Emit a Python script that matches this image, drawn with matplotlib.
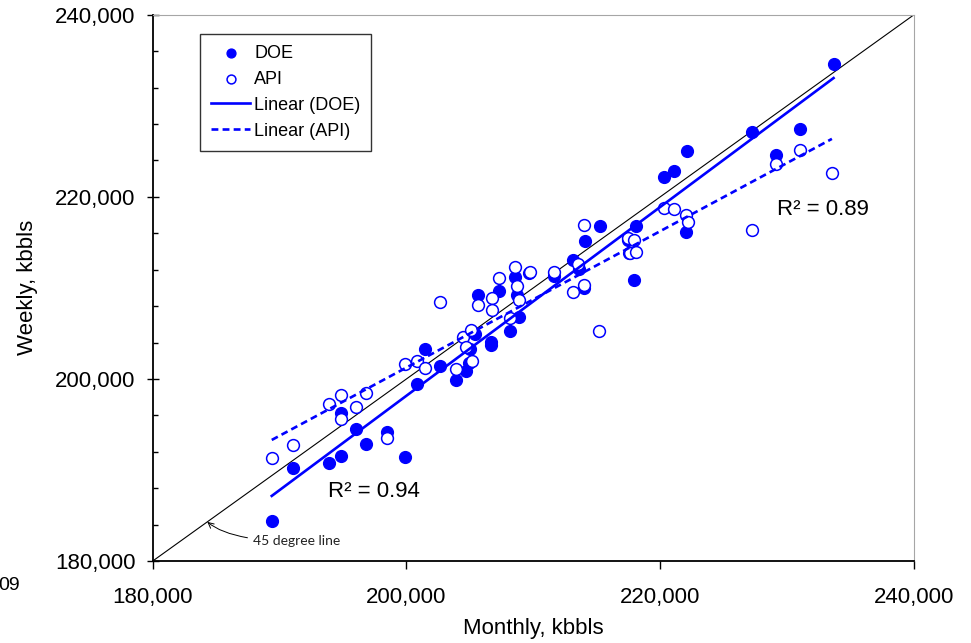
import matplotlib
matplotlib.use("Agg")
import matplotlib.pyplot as plt
import matplotlib.ticker as mticker
import numpy as np

plt.rcParams['font.family'] = ['Liberation Sans', 'DejaVu Sans']

# Tồn kho: số liệu tháng (trục x) so với số liệu tuần (trục y), kbbls
doe_monthly = [189380, 191030, 193870, 194810, 194810, 196050, 196780, 198440, 199860, 200840,
               201470, 202620, 203880, 204660, 204940, 205030, 205370, 205630, 206690, 206690,
               207290, 208190, 208580, 208720, 208880, 209630, 211600, 213120, 213570, 213990,
               214040, 215220, 217450, 217530, 217900, 218120, 220270, 221060, 222130, 222000,
               227230, 229090, 231040, 233660]
doe_weekly = [184350, 190250, 190800, 191570, 196310, 194550, 192890, 194220, 191460, 199400,
              203250, 201380, 199890, 200830, 201770, 203330, 204980, 209200, 204060, 203690,
              209680, 205270, 211150, 209260, 206780, 211680, 211330, 213060, 212040, 209940,
              215150, 216810, 215260, 213830, 210910, 216750, 222210, 222870, 225070, 216150,
              227090, 224630, 227460, 234600]

api_monthly = [189380, 191030, 193870, 194810, 194810, 196050, 196780, 198440, 199860, 200840,
               201470, 202620, 203880, 204450, 204720, 205110, 205190, 205630, 206770, 206770,
               207290, 208130, 208580, 208680, 208860, 209760, 211600, 213510, 213120, 213990,
               213990, 215170, 217450, 217900, 217640, 218060, 220270, 221060, 222000, 222180,
               227200, 229090, 231040, 233530]
api_weekly = [191350, 192780, 197300, 198180, 195650, 196970, 198400, 193550, 201600, 201930,
              201160, 208430, 201130, 204610, 203510, 205350, 201930, 208100, 208840, 207550,
              211040, 206720, 212260, 210190, 208650, 211770, 211700, 212620, 209570, 210300,
              216920, 205240, 215480, 215260, 213780, 213890, 218760, 218650, 218020, 217220,
              216330, 223610, 225110, 222650]

r2_labels = ['R² = 0.94', 'R² = 0.89']
axis_range = [180000, 240000]
blue = '#0000ff'


def add_trend(ax, x, y, **kw):
    # Đường hồi quy tuyến tính trên khoảng dữ liệu
    k, b = np.polyfit(x, y, 1)
    xs = np.array([min(x), max(x)])
    ax.plot(xs, k * xs + b, color=blue, linewidth=1.9, **kw)


fig = plt.figure(figsize=(9.71, 6.43), dpi=100)
ax = fig.add_axes([0.1573, 0.1275, 0.784, 0.8496])

# Đường 45 độ
ax.plot(axis_range, axis_range, color='black', linewidth=0.8, zorder=1)

ax.scatter(doe_monthly, doe_weekly, s=72, color=blue, edgecolors=blue, linewidths=1.0,
           label='DOE', zorder=3)
ax.scatter(api_monthly, api_weekly, s=72, facecolors='white', edgecolors=blue, linewidths=1.1,
           label='API', zorder=4)
add_trend(ax, doe_monthly, doe_weekly, label='Linear (DOE)', zorder=5)
add_trend(ax, api_monthly, api_weekly, label='Linear (API)', linestyle=(0, (2.6, 1.6)), zorder=5)

ax.text(193790, 187610, r2_labels[0], fontsize=16, va='center', ha='left')
ax.text(229170, 218620, r2_labels[1], fontsize=16, va='center', ha='left')

ax.annotate('45 degree line', xy=(184300, 184300), xytext=(187900, 182150),
            fontsize=10, family=['Lato', 'DejaVu Sans'], va='center', ha='left', color='#222222',
            arrowprops=dict(arrowstyle='->', color='black', linewidth=0.7,
                            connectionstyle='angle3,angleA=180,angleB=-40',
                            shrinkA=2, shrinkB=0))

# Trục
ax.set_xlim(axis_range)
ax.set_ylim(axis_range)
ax.xaxis.set_major_locator(mticker.MultipleLocator(20000))
ax.yaxis.set_major_locator(mticker.MultipleLocator(20000))
ax.yaxis.set_minor_locator(mticker.MultipleLocator(4000))
fmt = mticker.FuncFormatter(lambda v, p: f'{int(v):,}')
ax.xaxis.set_major_formatter(fmt)
ax.yaxis.set_major_formatter(fmt)
ax.tick_params(axis='x', which='major', direction='out', length=6, width=1, labelsize=16, pad=13)
ax.tick_params(axis='y', which='major', direction='inout', length=9, width=1, labelsize=16, pad=8)
ax.tick_params(axis='y', which='minor', direction='in', length=3.5, width=1)

for side in ['left', 'bottom']:
    ax.spines[side].set_linewidth(1.3)
for side in ['top', 'right']:
    ax.spines[side].set_color('#a6a6a6')
    ax.spines[side].set_linewidth(0.8)

ax.set_xlabel('Monthly, kbbls', fontsize=16, labelpad=7)
ax.set_ylabel('Weekly, kbbls', fontsize=16, labelpad=12)

leg = ax.legend(loc='upper left', bbox_to_anchor=(0.062, 0.965), borderaxespad=0,
                fontsize=13, frameon=True, fancybox=False, edgecolor='black',
                markerscale=0.75, handlelength=2.2, handletextpad=0.2,
                labelspacing=0.5, borderpad=0.6)
leg.get_frame().set_linewidth(1.0)

fig.text(20 / 971, 1 - 585 / 643, '09', fontsize=14, ha='right', va='center')

fig.savefig('out.png', dpi=100, facecolor='white')
